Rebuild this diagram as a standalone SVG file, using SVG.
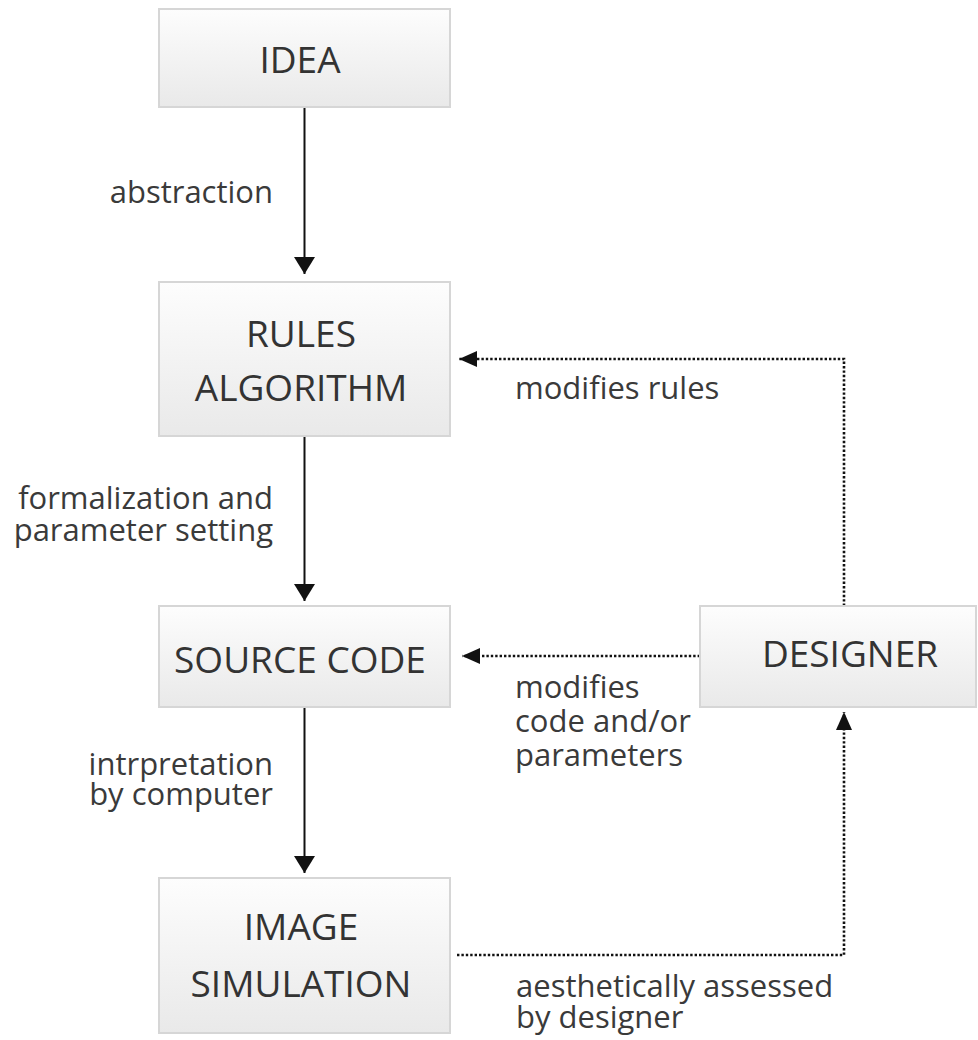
<svg xmlns="http://www.w3.org/2000/svg" width="978" height="1040" viewBox="0 0 978 1040">
<style>
.box{fill:url(#g);stroke:#d6d6d6;stroke-width:2}
.bt{font-family:"Open Sans","Noto Sans",sans-serif;font-size:37px;fill:#333;text-anchor:middle}
.lb{font-family:"Open Sans","Noto Sans",sans-serif;font-size:31px;fill:#3a3a3a}
.solid{stroke:#111;stroke-width:2;fill:none}
.dot{stroke:#111;stroke-width:2.6;fill:none;stroke-dasharray:2.4 2}
</style>
<defs>
<linearGradient id="g" x1="0" y1="0" x2="0" y2="1">
<stop offset="0" stop-color="#fdfdfd"/>
<stop offset="1" stop-color="#e9e9e9"/>
</linearGradient>
<marker id="aS" viewBox="0 0 17 21" refX="17" refY="10.5" markerWidth="17" markerHeight="21" markerUnits="userSpaceOnUse" orient="auto">
<path d="M0,0 L17,10.5 L0,21 z" fill="#111"/>
</marker>
<marker id="aD" viewBox="0 0 18 16" refX="18" refY="8" markerWidth="18" markerHeight="16" markerUnits="userSpaceOnUse" orient="auto">
<path d="M0,0 L18,8 L0,16 z" fill="#111"/>
</marker>
</defs>
<rect width="978" height="1040" fill="#fff"/>
<g id="connectors">
<path class="solid" d="M304.5,107 V274" marker-end="url(#aS)"/>
<path class="solid" d="M304.5,436 V601" marker-end="url(#aS)"/>
<path class="solid" d="M304.5,707 V873" marker-end="url(#aS)"/>
<path class="dot" d="M844,606 V359 H459" marker-end="url(#aD)"/>
<path class="dot" d="M700,656 H462" marker-end="url(#aD)"/>
<path class="dot" d="M457,955 H844 V712" marker-end="url(#aD)"/>
<text class="lb" x="273" y="203" text-anchor="end">abstraction</text>
<text class="lb" text-anchor="end"><tspan x="273" y="509">formalization and</tspan><tspan x="273" y="541">parameter setting</tspan></text>
<text class="lb" text-anchor="end"><tspan x="273" y="775">intrpretation</tspan><tspan x="273" y="805">by computer</tspan></text>
<text class="lb" x="515" y="399">modifies rules</text>
<text class="lb"><tspan x="515" y="698">modifies</tspan><tspan x="515" y="732">code and/or</tspan><tspan x="515" y="766">parameters</tspan></text>
<text class="lb"><tspan x="516" y="997">aesthetically assessed</tspan><tspan x="516" y="1028">by designer</tspan></text>
</g>
<g id="idea">
<rect class="box" x="159" y="9" width="291" height="98"/>
<text class="bt" x="300" y="73">IDEA</text>
</g>
<g id="rules">
<rect class="box" x="159" y="282" width="291" height="154"/>
<text class="bt"><tspan x="301" y="347">RULES</tspan><tspan x="301" y="401">ALGORITHM</tspan></text>
</g>
<g id="source">
<rect class="box" x="159" y="606" width="291" height="101"/>
<text class="bt" x="300" y="673">SOURCE CODE</text>
</g>
<g id="designer">
<rect class="box" x="700" y="606" width="276" height="101"/>
<text class="bt" x="850" y="667">DESIGNER</text>
</g>
<g id="image">
<rect class="box" x="159" y="878" width="291" height="155"/>
<text class="bt"><tspan x="301" y="940">IMAGE</tspan><tspan x="301" y="997">SIMULATION</tspan></text>
</g>
</svg>
